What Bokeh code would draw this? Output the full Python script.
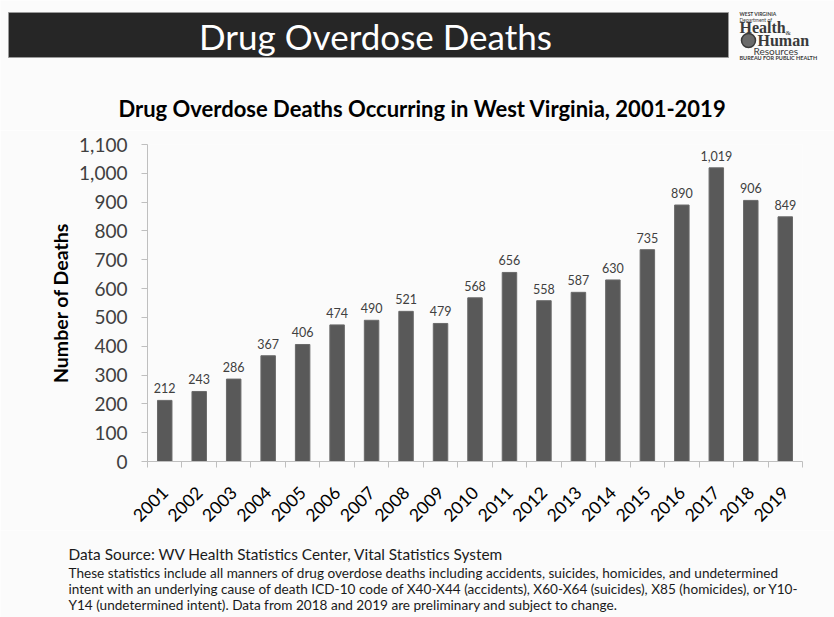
import math
from bokeh.plotting import figure
from bokeh.layouts import column
from bokeh.models import (ColumnDataSource, FixedTicker, NumeralTickFormatter, Range1d, Plot)
from bokeh.core.properties import value
from bokeh.embed import file_html
from bokeh.resources import INLINE

# ---------------- data ----------------
years = ["2001", "2002", "2003", "2004", "2005", "2006", "2007", "2008", "2009", "2010",
         "2011", "2012", "2013", "2014", "2015", "2016", "2017", "2018", "2019"]
deaths = [212, 243, 286, 367, 406, 474, 490, 521, 479, 568,
          656, 558, 587, 630, 735, 890, 1019, 906, 849]
y_ticks = [0, 100, 200, 300, 400, 500, 600, 700, 800, 900, 1000, 1100]

header_text = "Drug Overdose Deaths"
chart_title = "Drug Overdose Deaths Occurring in West Virginia, 2001-2019"
y_label = "Number of Deaths"
source_line = "Data Source: WV Health Statistics Center, Vital Statistics System"
note_lines = [
    "These statistics include all manners of drug overdose deaths including accidents, suicides, homicides, and undetermined",
    "intent with an underlying cause of death ICD-10 code of X40-X44  (accidents), X60-X64 (suicides), X85 (homicides), or Y10-",
    "Y14 (undetermined intent). Data from 2018 and 2019 are preliminary and subject to change.",
]

FONT = "Lato"
BG = "#fbfbfb"

W, H = 834, 617
TOP_H = 130          # header strip height
FOOT_H = 87          # footer strip height
MAIN_H = H - TOP_H - FOOT_H
FL, FR, FT, FB = 147, 802, 144, 463   # frame edges in page px

HAS_FRAME_ALIGN = "frame_align" in Plot.properties()


def no_align(f):
    if HAS_FRAME_ALIGN:
        f.frame_align = False
    return f


def strip(y0, y1):
    """A plain figure whose data space equals page pixels (y downwards)."""
    f = figure(width=W, height=y1 - y0, output_backend="svg", toolbar_location=None,
               x_range=Range1d(0, W), y_range=Range1d(y1, y0),
               x_axis_type=None, y_axis_type=None,
               min_border=0, background_fill_color=BG, border_fill_color=BG)
    f.outline_line_color = None
    f.grid.visible = False
    return no_align(f)


# ---------------- header strip ----------------
top = strip(0, TOP_H)
top.quad(left=[8], right=[728], top=[12], bottom=[57],
         fill_color="#262626", line_color="#9a9a9a", line_width=1)
top.text(x=[375], y=[35], text=[header_text], text_align="center", text_baseline="middle",
         text_font=value(FONT), text_font_size="35px", text_color="#ffffff")
logo_items = [
    ("WEST VIRGINIA", 739, 13, "5px", "bold", "Lato"),
    ("Department of", 739, 19, "5px", "normal", "Lato"),
    ("Health", 739, 27, "16px", "bold", "Liberation Serif"),
    ("&", 785, 32, "7px", "normal", "Liberation Serif"),
    ("Human", 757, 40, "16px", "bold", "Liberation Serif"),
    ("Resources", 753, 50, "10px", "normal", "Lato"),
    ("BUREAU FOR PUBLIC HEALTH", 739, 57, "5.5px", "bold", "Lato"),
]
for t, cx, cy, fs, st, fnt in logo_items:
    top.text(x=[cx], y=[cy], text=[t], text_align="left", text_baseline="middle",
             text_font=value(fnt), text_font_size=fs, text_font_style=st,
             text_color="#3a3a3a")
top.circle(x=[748], y=[40], radius=7, fill_color="#6a6a6a", line_color="#3a3a3a",
           line_width=1.5)
top.text(x=[422], y=[108], text=[chart_title], text_align="center", text_baseline="middle",
         text_font=value(FONT), text_font_size="22px", text_font_style="bold",
         text_color="#000000")

# ---------------- main chart ----------------
xpos = [i + 0.5 for i in range(len(years))]
src = ColumnDataSource(dict(
    x=xpos, top=deaths, year=years,
    lbl=[f"{v:,}" for v in deaths],
))

p = figure(width=W, height=MAIN_H, output_backend="svg", toolbar_location=None,
           x_range=Range1d(0, len(years)), y_range=Range1d(0, 1100),
           min_border_left=FL, min_border_right=W - FR,
           min_border_top=FT - TOP_H, min_border_bottom=(TOP_H + MAIN_H) - FB,
           background_fill_color=BG, border_fill_color=BG)
no_align(p)
p.outline_line_color = None
p.xgrid.visible = False
p.ygrid.visible = False

p.vbar(x="x", top="top", width=0.42, source=src,
       fill_color="#595959", line_color="#6a6a6a", line_width=1)
p.text(x="x", y="top", text="lbl", source=src, y_offset=-7,
       text_align="center", text_baseline="bottom",
       text_font=value(FONT), text_font_size="12.5px", text_color="#404040")

ya = p.yaxis[0]
ya.ticker = FixedTicker(ticks=y_ticks)
ya.formatter = NumeralTickFormatter(format="0,0")
ya.axis_line_color = "#bfbfbf"
ya.major_tick_line_color = "#bfbfbf"
ya.major_tick_out = 6
ya.major_tick_in = 0
ya.minor_tick_line_color = None
ya.major_label_text_font = FONT
ya.major_label_text_font_size = "19px"
ya.major_label_text_color = "#404040"
ya.major_label_standoff = 14
ya.axis_label = y_label
ya.axis_label_text_font = FONT
ya.axis_label_text_font_size = "19.5px"
ya.axis_label_text_font_style = "bold"
ya.axis_label_text_color = "#000000"
ya.axis_label_standoff = 4

xa = p.xaxis[0]
xa.ticker = FixedTicker(ticks=xpos, minor_ticks=list(range(len(years) + 1)))
xa.major_label_overrides = {x: y for x, y in zip(xpos, years)}
xa.axis_line_color = "#bfbfbf"
xa.major_tick_line_color = None
xa.major_tick_out = 0
xa.major_tick_in = 0
xa.minor_tick_line_color = "#bfbfbf"
xa.minor_tick_out = 6
xa.minor_tick_in = 0
xa.major_label_orientation = math.pi / 4
xa.major_label_text_font = FONT
xa.major_label_text_font_size = "17.5px"
xa.major_label_text_color = "#000000"
xa.major_label_standoff = 22

# ---------------- footer strip ----------------
foot = strip(H - FOOT_H, H)
foot.text(x=[68], y=[553], text=[source_line], text_align="left", text_baseline="middle",
          text_font=value(FONT), text_font_size="15.4px", text_color="#1a1a1a")
foot.text(x=[68] * len(note_lines), y=[572 + 16 * i for i in range(len(note_lines))],
          text=note_lines, text_align="left", text_baseline="middle",
          text_font=value(FONT), text_font_size="13.6px", text_color="#1a1a1a")

layout = column(top, p, foot, spacing=0)
open("out.html", "w").write(file_html(layout, INLINE))
